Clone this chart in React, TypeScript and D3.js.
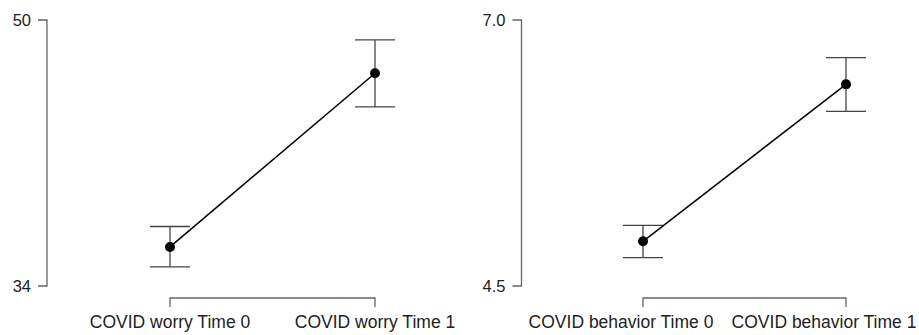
import React from 'react';
import * as d3 from 'd3';

// values
const worryLabels = ['COVID worry Time 0', 'COVID worry Time 1'];
const worryMean = [36.35, 46.8];
const worryLower = [35.15, 44.77];
const worryUpper = [37.58, 48.8];
const worryTicks = [34, 50];

const behavLabels = ['COVID behavior Time 0', 'COVID behavior Time 1'];
const behavMean = [4.92, 6.395];
const behavLower = [4.766, 6.142];
const behavUpper = [5.07, 6.646];
const behavTicks = [4.5, 7.0];

const font = '"Liberation Sans", Arial, sans-serif';
const axisCol = '#666';

function Panel({ axisX, xs, labels, mean, lower, upper, ticks, fmt, labelShift }) {
  const y = d3.scaleLinear().domain([ticks[0], ticks[1]]).range([286, 20]);
  const x = d3.scalePoint().domain(labels).range(xs);
  const line = d3.line<number>()
    .x((d, i) => x(labels[i]))
    .y(d => y(d));
  const cap = 20;
  return (
    <g>
      {/* y axis */}
      <path d={`M${axisX - 9},${y(ticks[0])}H${axisX}V${y(ticks[1])}H${axisX - 9}`}
        fill="none" stroke={axisCol} strokeWidth={1.3} />
      {ticks.map(t => (
        <text key={t} x={axisX - 16} y={y(t)} dy="0.35em" textAnchor="end"
          fontSize={16.5} fontFamily={font} fill="#222">{fmt(t)}</text>
      ))}
      {/* x axis bracket */}
      <path d={`M${x(labels[0])},307V298H${x(labels[1])}V307`}
        fill="none" stroke={axisCol} strokeWidth={1.3} />
      {labels.map(l => (
        <text key={l} x={x(l) + labelShift} y={328} textAnchor="middle"
          fontSize={17.5} fontFamily={font} fill="#222">{l}</text>
      ))}
      {/* error bars */}
      {labels.map((l, i) => (
        <g key={l} stroke="#444" strokeWidth={1.3} fill="none">
          <line x1={x(l)} x2={x(l)} y1={y(lower[i])} y2={y(upper[i])} />
          <line x1={x(l) - cap} x2={x(l) + cap} y1={y(lower[i])} y2={y(lower[i])} />
          <line x1={x(l) - cap} x2={x(l) + cap} y1={y(upper[i])} y2={y(upper[i])} />
        </g>
      ))}
      <path d={line(mean)} fill="none" stroke="#000" strokeWidth={1.5} />
      {mean.map((m, i) => (
        <circle key={i} cx={x(labels[i])} cy={y(m)} r={5} fill="#000" />
      ))}
    </g>
  );
}

export default function App() {
  return (
    <svg width={919} height={335} style={{ position: 'absolute', left: 0, top: 0, background: '#fff' }}>
      <Panel axisX={47} xs={[170, 375]} labels={worryLabels}
        mean={worryMean} lower={worryLower} upper={worryUpper}
        ticks={worryTicks} fmt={d3.format('d')} labelShift={0} />
      <Panel axisX={521.5} xs={[643, 846]} labels={behavLabels}
        mean={behavMean} lower={behavLower} upper={behavUpper}
        ticks={behavTicks} fmt={d3.format('.1f')} labelShift={-22} />
    </svg>
  );
}
